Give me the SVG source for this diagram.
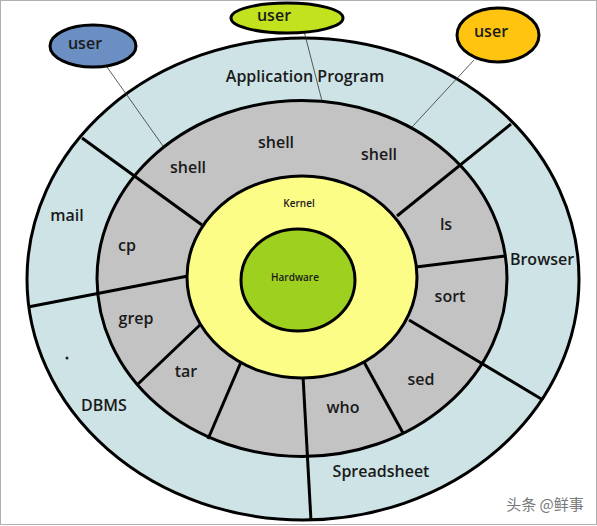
<svg xmlns="http://www.w3.org/2000/svg" width="597" height="526" viewBox="0 0 597 526">
<style>
.ring{stroke:#000;stroke-width:3}
.div{stroke:#000;stroke-width:3;fill:none}
.conn{stroke:#333;stroke-width:0.8;fill:none}
.lbl{font-family:"Open Sans","Liberation Sans",sans-serif;font-weight:600;font-size:16px;fill:#1a1a1a;text-anchor:middle}
.sm{font-family:"Open Sans","Liberation Sans",sans-serif;font-weight:600;font-size:10px;fill:#1a1a1a;text-anchor:middle}
</style>
<rect x="0.5" y="0.5" width="596" height="524" fill="#fff" stroke="#b0b0b0" stroke-width="1"/>
<g id="application-ring"><ellipse class="ring" cx="303" cy="279" rx="276" ry="241" fill="#cde3e5"/></g>
<g id="shell-ring"><ellipse class="ring" cx="302" cy="278.5" rx="205" ry="178" fill="#c3c3c3"/></g>
<g id="dividers">
<line class="div" x1="82" y1="138" x2="202" y2="225"/>
<line class="div" x1="28" y1="307" x2="188" y2="276"/>
<line class="div" x1="201" y1="324" x2="138" y2="384"/>
<line class="div" x1="241" y1="362" x2="208" y2="439"/>
<line class="div" x1="303" y1="376" x2="311" y2="521"/>
<line class="div" x1="364" y1="362" x2="403" y2="433"/>
<line class="div" x1="409" y1="320" x2="543" y2="400"/>
<line class="div" x1="416" y1="267" x2="505" y2="256"/>
<line class="div" x1="511" y1="124" x2="397" y2="216"/>
</g>
<g id="kernel"><ellipse class="ring" cx="302" cy="277" rx="115" ry="101" fill="#fbfd86"/><text class="sm" x="299" y="207">Kernel</text></g>
<g id="hardware"><ellipse class="ring" cx="298" cy="280" rx="57" ry="51" fill="#9ed01f"/><text class="sm" x="295" y="281">Hardware</text></g>
<g id="connectors">
<line class="conn" x1="107" y1="67" x2="163" y2="146"/>
<line class="conn" x1="304" y1="31" x2="322" y2="101"/>
<line class="conn" x1="474" y1="60" x2="412" y2="127"/>
</g>
<g id="user-1"><ellipse class="ring" cx="93" cy="46" rx="43" ry="21" fill="#6b8fc2"/><text class="lbl" x="85" y="49">user</text></g>
<g id="user-2"><ellipse class="ring" cx="287" cy="18" rx="56" ry="15" fill="#c3e21e"/><text class="lbl" x="274" y="21">user</text></g>
<g id="user-3"><ellipse class="ring" cx="498" cy="35" rx="41" ry="27" fill="#fec40f"/><text class="lbl" x="491" y="37">user</text></g>
<g id="labels">
<text class="lbl" x="305" y="82">Application Program</text>
<text class="lbl" x="188" y="173">shell</text>
<text class="lbl" x="276" y="148">shell</text>
<text class="lbl" x="379" y="160">shell</text>
<text class="lbl" x="67" y="221">mail</text>
<text class="lbl" x="127" y="251">cp</text>
<text class="lbl" x="446" y="230">ls</text>
<text class="lbl" x="542" y="265">Browser</text>
<text class="lbl" x="450" y="302">sort</text>
<text class="lbl" x="136" y="324">grep</text>
<text class="lbl" x="186" y="377">tar</text>
<text class="lbl" x="421" y="385">sed</text>
<text class="lbl" x="343" y="413">who</text>
<text class="lbl" x="104" y="411">DBMS</text>
<text class="lbl" x="381" y="477">Spreadsheet</text>
<circle cx="67" cy="358" r="1.5" fill="#222"/>
</g>
<text x="545" y="510" font-family="'Noto Sans CJK SC',sans-serif" font-size="15" fill="#777" text-anchor="middle">头条 @鲜事</text>
</svg>
